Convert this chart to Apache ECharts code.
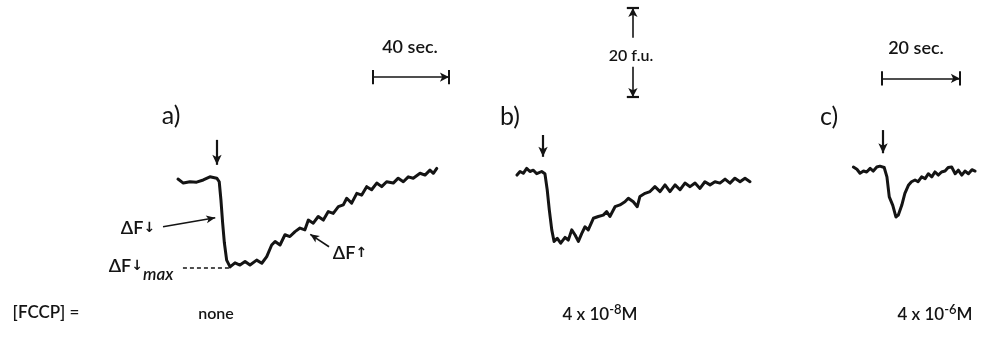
<!DOCTYPE html>
<html>
<head>
<meta charset="utf-8">
<script src="https://cdn.jsdelivr.net/npm/echarts@6/dist/echarts.min.js"></script>
<style>
  html, body { margin: 0; background: #fff; }
  #chart { width: 994px; height: 343px; }
</style>
</head>
<body>
<div id="chart"></div>
<script>
// time in seconds from start of each trace, fluorescence change in f.u. (0 = level before FCCP/substrate addition)
const timeA = [0, 2.8, 6.3, 9.8, 13.3, 16.8, 20.4, 21.7, 22.6, 23.5, 24.4, 25.6, 27.4, 30.0, 32.6, 35.3, 37.9, 41.4, 44.1, 46.7, 49.3, 51.1, 53.7, 56.3, 58.9, 61.6, 64.2, 66.8, 68.6, 71.2, 73.8, 76.5, 79.1, 81.7, 84.4, 87.0, 88.8, 91.4, 94.1, 96.7, 99.3, 101.9, 104.6, 107.2, 109.8, 113.3, 115.9, 118.6, 121.2, 123.8, 127.4, 130.0, 132.6, 134.4, 136.2]
const fluA = [0.2, -0.7, -0.4, -0.5, 0, 0.7, 0.4, -0.4, -4.5, -9.7, -14.1, -18.0, -19.5, -18.6, -19.1, -18.3, -19.1, -18.0, -18.7, -17.2, -14.6, -13.8, -14.6, -12.3, -12.7, -11.6, -10.8, -11.2, -9.0, -9.7, -8.2, -9.0, -7.1, -7.5, -6.0, -5.6, -4.1, -5.2, -3.0, -3.4, -1.5, -2.2, -0.7, -1.5, -0.4, -0.7, 0.4, -0.4, 0.7, 0.4, 1.5, 1.1, 2.2, 1.5, 2.6]

const timeB = [0, 1.6, 3.3, 5.1, 6.8, 8.6, 10.4, 13.0, 14.7, 15.9, 17.0, 18.3, 19.5, 21.2, 23.0, 25.3, 27.0, 28.8, 30.5, 32.3, 34.1, 35.8, 37.5, 40.2, 42.8, 45.4, 47.2, 48.9, 51.6, 54.2, 56.8, 58.6, 61.2, 63.3, 64.7, 67.4, 70.0, 72.6, 75.3, 77.9, 80.5, 83.2, 85.8, 88.4, 91.1, 93.7, 96.3, 98.9, 101.6, 104.2, 106.8, 109.5, 112.1, 114.7, 117.4, 120.0, 122.6]
const fluB = [-0.7, 0.1, -0.3, 0.8, 0.1, 0.4, -0.4, 0.1, -0.4, -4.0, -8.5, -13.0, -15.6, -14.9, -16.0, -14.7, -15.3, -13.0, -14.1, -15.6, -13.8, -12.3, -13.0, -10.4, -10.0, -9.7, -8.9, -10.0, -7.8, -7.4, -6.7, -5.9, -6.7, -7.8, -5.5, -4.8, -4.4, -3.3, -4.4, -2.9, -4.4, -2.9, -4.0, -2.5, -3.3, -2.5, -3.7, -2.2, -2.9, -2.2, -2.5, -1.6, -2.5, -1.4, -2.2, -1.4, -2.2]

const timeC = [0.1, 1.0, 1.8, 2.7, 3.5, 4.4, 5.2, 6.1, 6.9, 8.0, 8.7, 9.3, 10.2, 11.0, 11.6, 12.5, 13.3, 14.2, 15.0, 15.9, 16.7, 17.6, 18.5, 19.3, 20.2, 21.0, 21.9, 22.7, 23.6, 24.4, 25.3, 26.2, 27.0, 27.9, 28.7, 29.6, 30.5, 31.3]
const fluC = [-0.2, -0.7, -1.6, -1.1, -1.3, -0.5, -1.1, -0.2, 0, -0.3, -2.4, -6.9, -8.8, -11.4, -11.0, -8.8, -6.1, -4.3, -3.5, -3.1, -3.5, -2.4, -2.8, -1.7, -2.4, -1.3, -2.0, -1.3, -1.1, -0.3, -0.2, -1.7, -0.9, -2.0, -1.1, -1.7, -0.8, -1.1]

const additionTimes = [20.5, 13.7, 7.7]
const panelLabels = ['a)', 'b)', 'c)']
const fcppLabels = ['none', '4 x 10-8M', '4 x 10-6M']

// scale bars
const barA = { t0: 102.6, t1: 142.6, level: 23.1 }     // 40 sec, panel a/b time scale
const barC = { t0: 7.4, t1: 27.4, level: 19.7 }        // 20 sec, panel c time scale
const barFu = { t: 61, low: 16.8, high: 36.8 }         // 20 f.u., drawn in panel b

const INK = '#141414'
const FONT = 'Lato, "DejaVu Sans", sans-serif'

function pairs(ts, vs) {
  return ts.map((t, i) => [t, vs[i]])
}

function seg(p0, p1, opt) {
  opt = opt || {}
  return [
    Object.assign({ coord: p0, symbol: opt.s0 || 'none', symbolSize: opt.size || 9 }, opt.style ? { lineStyle: opt.style } : {}),
    { coord: p1, symbol: opt.s1 || 'none', symbolSize: opt.size || 9 }
  ]
}

function trace(idx, data, marks) {
  return {
    type: 'line',
    xAxisIndex: idx,
    yAxisIndex: idx,
    data: data,
    showSymbol: false,
    silent: true,
    lineStyle: { color: INK, width: 3, join: 'round', cap: 'round' },
    markLine: {
      silent: true,
      animation: false,
      symbol: ['none', 'none'],
      label: { show: false },
      lineStyle: { color: INK, width: 1.6, type: 'solid' },
      emphasis: { disabled: true },
      data: marks
    }
  }
}

function arrowDown(t, top, bottom) {
  return seg([t, top], [t, bottom], { s1: 'arrow', size: [7, 10], style: { width: 2.2 } })
}

function timeBar(bar, tick) {
  return [
    seg([bar.t0, bar.level], [bar.t1, bar.level], { s1: 'arrow', size: [7, 9] }),
    seg([bar.t0, bar.level - tick], [bar.t0, bar.level + tick], { style: { width: 2 } }),
    seg([bar.t1, bar.level - tick], [bar.t1, bar.level + tick], { style: { width: 2 } })
  ]
}

const marksA = [
  arrowDown(additionTimes[0], 9.0, 3.4),
  ...timeBar(barA, 1.6),
  // ΔF↓ pointer
  seg([-7.9, -10.5], [19.6, -8.5], { s1: 'arrow', size: [6, 9], style: { curveness: -0.08 } }),
  // ΔF↓max dashed level
  seg([2.6, -19.75], [27.4, -19.75], { style: { type: [4, 3], width: 1.5 } }),
  // ΔF↑ pointer
  seg([79.5, -15.0], [69.6, -12.2], { s1: 'arrow', size: [6, 9] })
]

const marksB = [
  arrowDown(additionTimes[1], 8.3, 3.4),
  seg([barFu.t, 30.1], [barFu.t, barFu.high], { s1: 'arrow', size: [7, 9] }),
  seg([barFu.t, 23.6], [barFu.t, barFu.low], { s1: 'arrow', size: [7, 9] }),
  seg([barFu.t - 3.2, barFu.high], [barFu.t + 3.2, barFu.high], { style: { width: 2.2 } }),
  seg([barFu.t - 3.2, barFu.low], [barFu.t + 3.2, barFu.low], { style: { width: 2.2 } })
]

const marksC = [arrowDown(additionTimes[2], 8.1, 2.9), ...timeBar(barC, 1.6)]

function txt(x, y, text, size, extra) {
  return {
    type: 'text',
    x: x,
    y: y,
    silent: true,
    style: Object.assign({
      text: text,
      fill: INK,
      font: '600 ' + size + 'px ' + FONT,
      align: 'center',
      verticalAlign: 'middle'
    }, extra || {})
  }
}

function powerLabel(x, y, label) {
  const m = label.match(/^(.*10)(-\d)(M)$/)
  return {
    type: 'text', x: x, y: y, silent: true,
    style: {
      text: '{b|' + m[1] + '}{sup|' + m[2] + '}{b|' + m[3] + '}',
      align: 'center', verticalAlign: 'middle',
      rich: {
        b: { fontSize: 17, fontWeight: 600, fontFamily: FONT, fill: INK, verticalAlign: 'bottom', lineHeight: 20 },
        sup: { fontSize: 13, fontWeight: 600, fontFamily: FONT, fill: INK, verticalAlign: 'top', lineHeight: 20, padding: [0, 0, 9, 0] }
      }
    }
  }
}

const axisHidden = { show: false }

const option = {
  backgroundColor: '#fff',
  animation: false,
  grid: [
    { left: 102, top: 0, width: 361, height: 343 },
    { left: 517, top: 0, width: 285, height: 343 },
    { left: 853, top: 0, width: 136.5, height: 343 }
  ],
  xAxis: [
    Object.assign({ type: 'value', gridIndex: 0, min: -40, max: 150 }, axisHidden),
    Object.assign({ type: 'value', gridIndex: 1, min: 0, max: 150 }, axisHidden),
    Object.assign({ type: 'value', gridIndex: 2, min: 0, max: 35 }, axisHidden)
  ],
  yAxis: [
    Object.assign({ type: 'value', gridIndex: 0, min: -36.6, max: 40.4 }, axisHidden),
    Object.assign({ type: 'value', gridIndex: 1, min: -38.4, max: 38.6 }, axisHidden),
    Object.assign({ type: 'value', gridIndex: 2, min: -39.7, max: 37.3 }, axisHidden)
  ],
  series: [
    trace(0, pairs(timeA, fluA), marksA),
    trace(1, pairs(timeB, fluB), marksB),
    trace(2, pairs(timeC, fluC), marksC)
  ],
  graphic: [
    txt(410, 47, '40 sec.', 18),
    txt(631, 56, '20 f.u.', 16, { font: '600 16px ' + FONT }),
    txt(916, 48, '20 sec.', 18),
    txt(171, 116, panelLabels[0], 25, { font: '400 25px ' + FONT }),
    txt(510, 117, panelLabels[1], 25, { font: '400 25px ' + FONT }),
    txt(829, 117, panelLabels[2], 25, { font: '400 25px ' + FONT }),
    {
      type: 'text', x: 138, y: 228, silent: true,
      style: {
        text: '{d|ΔF}{a|↓}', align: 'center', verticalAlign: 'middle',
        rich: { d: { fontSize: 18, fontWeight: 600, fontFamily: FONT, fill: INK }, a: { fontSize: 14, fontWeight: 'bold', fontFamily: 'DejaVu Sans', fill: INK } }
      }
    },
    {
      type: 'text', x: 141, y: 270, silent: true,
      style: {
        text: '{d|ΔF}{a|↓}{m|max}', align: 'center', verticalAlign: 'middle',
        rich: {
          d: { fontSize: 18, fontWeight: 600, fontFamily: FONT, fill: INK, verticalAlign: 'top', lineHeight: 26 },
          a: { fontSize: 14, fontWeight: 'bold', fontFamily: 'DejaVu Sans', fill: INK, verticalAlign: 'top', lineHeight: 26, padding: [2, 0, 0, 0] },
          m: { fontSize: 17, fontWeight: 600, fontFamily: FONT, fontStyle: 'italic', fill: INK, verticalAlign: 'bottom', lineHeight: 26 }
        }
      }
    },
    {
      type: 'text', x: 350, y: 253, silent: true,
      style: {
        text: '{d|ΔF}{a|↑}', align: 'center', verticalAlign: 'middle',
        rich: { d: { fontSize: 18, fontWeight: 600, fontFamily: FONT, fill: INK }, a: { fontSize: 14, fontWeight: 'bold', fontFamily: 'DejaVu Sans', fill: INK } }
      }
    },
    txt(46, 313, '[FCCP] =', 17),
    txt(216, 314, fcppLabels[0], 16),
    powerLabel(600, 313, fcppLabels[1]),
    powerLabel(935, 313, fcppLabels[2])
  ]
}

const chart = echarts.init(document.getElementById('chart'), null, { renderer: 'canvas' })
chart.setOption(option)
</script>
</body>
</html>
